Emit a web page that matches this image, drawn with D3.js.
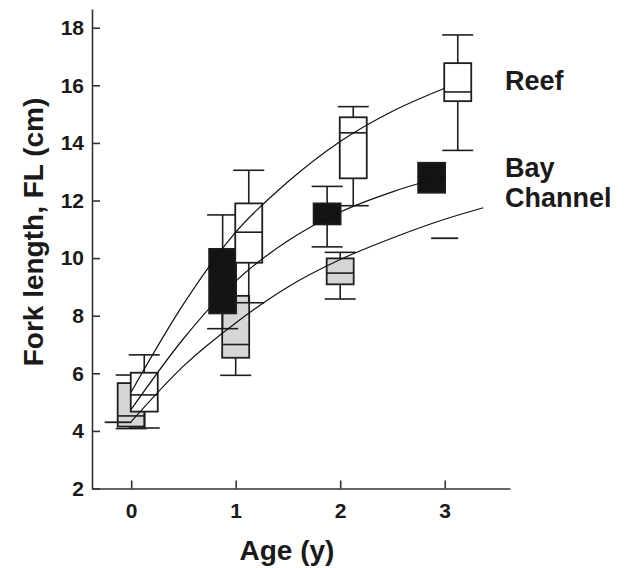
<!DOCTYPE html>
<html>
<head>
<meta charset="utf-8">
<script src="https://cdn.jsdelivr.net/npm/d3@7.9.0/dist/d3.min.js"></script>
<style>
  body { margin: 0; background: #fff; }
  svg { display: block; font-family: "Liberation Sans", Arial, Helvetica, sans-serif; }
  .tick text { font-weight: bold; fill: #1a1a1a; }
</style>
</head>
<body>
<div id="chart"></div>
<script>
// age classes on the x axis
const ages = [0, 1, 2, 3];
const yTicks = [2, 4, 6, 8, 10, 12, 14, 16, 18];

// box summaries per habitat: [low whisker, q1, median, q3, high whisker]
// single number = one fish (drawn as a bar)
const reefBoxes = [
  [4.1, 4.67, 5.25, 6.02, 6.64],
  [8.45, 9.84, 10.9, 11.9, 13.05],
  [11.82, 12.77, 14.35, 14.89, 15.26],
  [13.74, 15.45, 15.77, 16.77, 17.75]
];
const bayBoxes = [
  4.3,
  [7.55, 8.08, 9.0, 10.32, 11.5],
  [10.39, 11.17, 11.5, 11.9, 12.49],
  [12.27, 12.27, 12.8, 13.31, 13.31]
];
const channelBoxes = [
  [4.08, 4.15, 4.52, 5.66, 5.94],
  [5.93, 6.54, 7.0, 8.69, 10.0],
  [8.58, 9.09, 9.48, 9.99, 10.2],
  10.69
];

// growth curves
const reefCurveAge = [0, 0.5, 1, 1.5, 2, 2.5, 3];
const reefCurveFL = [5.35, 8.4, 10.9, 12.65, 14.05, 15.1, 15.9];
const bayCurveAge = [0, 0.5, 1, 1.5, 2, 2.5, 3];
const bayCurveFL = [4.75, 7.2, 9.2, 10.6, 11.6, 12.3, 12.85];
const channelCurveAge = [0, 0.5, 1, 1.5, 2, 2.5, 3, 3.37];
const channelCurveFL = [4.32, 6.25, 7.75, 9.0, 9.95, 10.7, 11.35, 11.75];

const habitats = ['Reef', 'Bay', 'Channel'];

const width = 631, height = 568;
const svg = d3.select('#chart').append('svg')
  .attr('width', width).attr('height', height);

const x = d3.scaleLinear().domain([-0.375, 3.625]).range([92, 510]);
const y = d3.scaleLinear().domain([2, 18.65]).range([488.5, 9]);

const boxW = 27, capW = 31;
const ink = '#1e1e1e';

function drawSeries(boxes, offset, fill) {
  const g = svg.append('g');
  boxes.forEach((b, i) => {
    if (b == null) return;
    const cx = x(ages[i] + offset);
    if (typeof b === 'number') {
      g.append('line')
        .attr('x1', cx - boxW / 2).attr('x2', cx + boxW / 2)
        .attr('y1', y(b)).attr('y2', y(b))
        .attr('stroke', ink).attr('stroke-width', 1.8);
      return;
    }
    const [lo, q1, med, q3, hi] = b;
    if (hi > q3) {
      g.append('line').attr('x1', cx).attr('x2', cx)
        .attr('y1', y(q3)).attr('y2', y(hi))
        .attr('stroke', ink).attr('stroke-width', 1.6);
      g.append('line').attr('x1', cx - capW / 2).attr('x2', cx + capW / 2)
        .attr('y1', y(hi)).attr('y2', y(hi))
        .attr('stroke', ink).attr('stroke-width', 1.6);
    }
    if (lo < q1) {
      g.append('line').attr('x1', cx).attr('x2', cx)
        .attr('y1', y(q1)).attr('y2', y(lo))
        .attr('stroke', ink).attr('stroke-width', 1.6);
      g.append('line').attr('x1', cx - capW / 2).attr('x2', cx + capW / 2)
        .attr('y1', y(lo)).attr('y2', y(lo))
        .attr('stroke', ink).attr('stroke-width', 1.6);
    }
    g.append('rect')
      .attr('x', cx - boxW / 2).attr('width', boxW)
      .attr('y', y(q3)).attr('height', y(q1) - y(q3))
      .attr('fill', fill).attr('stroke', ink).attr('stroke-width', 1.8);
    g.append('line').attr('x1', cx - boxW / 2).attr('x2', cx + boxW / 2)
      .attr('y1', y(med)).attr('y2', y(med))
      .attr('stroke', fill === '#141414' ? fill : ink).attr('stroke-width', 1.6);
  });
}

drawSeries(channelBoxes, 0, '#d5d7d7');
drawSeries(bayBoxes, -0.125, '#141414');
drawSeries(reefBoxes, 0.125, '#ffffff');

// growth curves on top
const line = d3.line().x(d => x(d[0])).y(d => y(d[1])).curve(d3.curveMonotoneX);
[[reefCurveAge, reefCurveFL], [bayCurveAge, bayCurveFL], [channelCurveAge, channelCurveFL]]
  .forEach(([a, v]) => {
    svg.append('path')
      .datum(d3.zip(a, v))
      .attr('d', line)
      .attr('fill', 'none')
      .attr('stroke', '#111')
      .attr('stroke-width', 1.2);
  });

// axes
const yAxis = svg.append('g')
  .attr('transform', `translate(${x.range()[0]},0)`)
  .call(d3.axisLeft(y).tickValues(yTicks).tickFormat(d3.format('d'))
    .tickSizeInner(-8).tickSizeOuter(0).tickPadding(8));
const xAxis = svg.append('g')
  .attr('transform', `translate(0,${y.range()[0]})`)
  .call(d3.axisBottom(x).tickValues(ages).tickFormat(d3.format('d'))
    .tickSizeInner(-8).tickSizeOuter(0).tickPadding(15));

[xAxis, yAxis].forEach(ax => {
  ax.select('.domain').attr('stroke', '#333').attr('stroke-width', 1.6);
  ax.selectAll('.tick line').attr('stroke', '#333').attr('stroke-width', 1.6);
  ax.selectAll('.tick text').style('font-size', '21px');
});

// axis titles
svg.append('text')
  .attr('x', 287).attr('y', 560)
  .attr('text-anchor', 'middle')
  .style('font-size', '28px').style('font-weight', 'bold').attr('fill', '#1a1a1a')
  .text('Age (y)');
svg.append('text')
  .attr('transform', 'translate(43,232) rotate(-90)')
  .attr('text-anchor', 'middle')
  .style('font-size', '28px').style('font-weight', 'bold').attr('fill', '#1a1a1a')
  .text('Fork length, FL (cm)');

// habitat labels
const labelY = [90, 176.7, 206.7];
svg.selectAll('.hab').data(habitats).join('text')
  .attr('class', 'hab')
  .attr('x', 505).attr('y', (d, i) => labelY[i])
  .style('font-size', '27px').style('font-weight', 'bold').attr('fill', '#1a1a1a')
  .text(d => d);
</script>
</body>
</html>
